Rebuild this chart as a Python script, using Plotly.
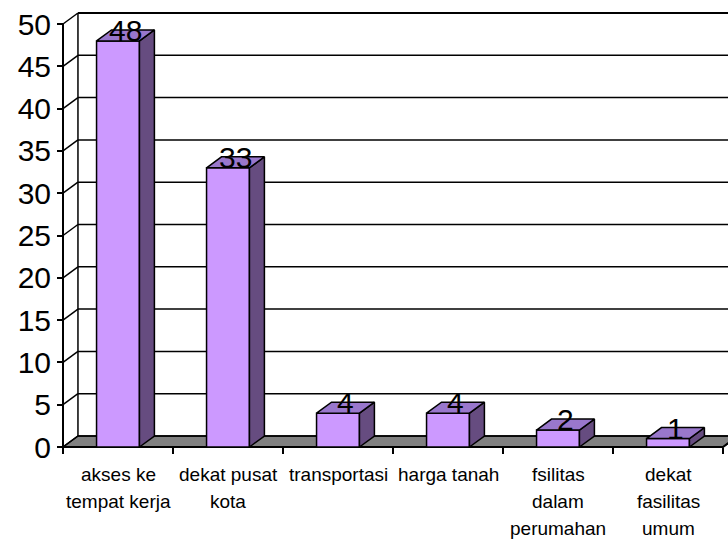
import plotly.graph_objects as go

# Survey results: reasons for choosing a housing location
kategori = [
    "akses ke<br>tempat kerja",
    "dekat pusat<br>kota",
    "transportasi",
    "harga tanah",
    "fsilitas<br>dalam<br>perumahan",
    "dekat<br>fasilitas<br>umum",
]
nilai = [48, 33, 4, 4, 2, 1]
y_ticks = list(range(0, 51, 5))

# colours of the pseudo-3D column faces
C_FRONT = "#CC99FF"
C_SIDE = "#664C80"
C_TOP = "#9977CC"
C_FLOOR = "#808080"
FONT = "Liberation Sans, Arial, sans-serif"

# depth of the 3D box in data units (x: category units, y: value units)
DX = 0.136
DY = 1.30
BAR_W = 0.39

# layout geometry (pixels)
W, H = 728, 540
ML, MR, MT, MB = 50, 0, 8, 80
PX_PER_UNIT = 8.46
Y0_PX = 447           # pixel row of value 0 on the front plane
X_AXIS_PX = 63        # pixel column of the front value axis
CAT_W_PX = 110

plot_w = W - ML - MR
plot_h = H - MT - MB
x_lo = -0.5 - (X_AXIS_PX - ML) / CAT_W_PX
x_hi = x_lo + plot_w / CAT_W_PX
y_lo = -((H - MB) - Y0_PX) / PX_PER_UNIT
y_hi = y_lo + plot_h / PX_PER_UNIT

n = len(kategori)
xs = list(range(n))
y_max = y_ticks[-1]

fig = go.Figure()

# front faces of the columns
fig.add_trace(go.Bar(
    x=xs, y=nilai, width=BAR_W,
    marker=dict(color=C_FRONT, line=dict(color="black", width=1.5)),
    hoverinfo="skip", showlegend=False,
))

# side and top faces
for i, v in enumerate(nilai):
    xr = i + BAR_W / 2
    xl = i - BAR_W / 2
    fig.add_trace(go.Scatter(
        x=[xr, xr + DX, xr + DX, xr, xr], y=[0, DY, v + DY, v, 0],
        mode="lines", fill="toself", fillcolor=C_SIDE,
        line=dict(color="black", width=1.5),
        hoverinfo="skip", showlegend=False,
    ))
    fig.add_trace(go.Scatter(
        x=[xl, xr, xr + DX, xl + DX, xl], y=[v, v, v + DY, v + DY, v],
        mode="lines", fill="toself", fillcolor=C_TOP,
        line=dict(color="black", width=1.5),
        hoverinfo="skip", showlegend=False,
    ))

shapes = []
x_left = -0.5
x_right = n - 0.5

# floor
shapes.append(dict(
    type="path", layer="below", xref="x", yref="y",
    path=f"M {x_left},0 L {x_right},0 L {x_right + DX},{DY} L {x_left + DX},{DY} Z",
    fillcolor=C_FLOOR, line=dict(color="black", width=1.5),
))
# back wall grid lines and left wall diagonals
for v in y_ticks:
    shapes.append(dict(
        type="line", layer="below", xref="x", yref="y",
        x0=x_left + DX, x1=x_hi + 1, y0=v + DY, y1=v + DY,
        line=dict(color="black", width=2 if v == y_max else 1.5),
    ))
    shapes.append(dict(
        type="line", layer="below", xref="x", yref="y",
        x0=x_left, x1=x_left + DX, y0=v, y1=v + DY,
        line=dict(color="black", width=1.5),
    ))
# back wall left edge
shapes.append(dict(
    type="line", layer="below", xref="x", yref="y",
    x0=x_left + DX, x1=x_left + DX, y0=DY, y1=y_max + DY,
    line=dict(color="black", width=1.5),
))
# front value axis
shapes.append(dict(
    type="line", layer="below", xref="x", yref="y",
    x0=x_left, x1=x_left, y0=0, y1=y_max,
    line=dict(color="black", width=2),
))
# front category axis
shapes.append(dict(
    type="path", layer="below", xref="x", yref="y",
    path=f"M {x_left},0 L {x_right},0 L {x_right + DX},{DY}",
    line=dict(color="black", width=2),
))

annotations = []
# value labels on top of the columns
for i, v in enumerate(nilai):
    annotations.append(dict(
        x=i + DX / 2, y=v, xref="x", yref="y", text=str(v),
        showarrow=False, yanchor="bottom", yshift=-8,
        font=dict(family=FONT, size=30, color="black"),
    ))
# category labels, one annotation per line
for i, lab in enumerate(kategori):
    for k, line in enumerate(lab.split("<br>")):
        annotations.append(dict(
            x=i, y=0, xref="x", yref="y", text=line,
            showarrow=False, yanchor="middle", yshift=-(27 + 27 * k),
            font=dict(family=FONT, size=19, color="black"),
        ))

fig.update_layout(
    width=W, height=H,
    margin=dict(l=ML, r=MR, t=MT, b=MB, pad=0),
    paper_bgcolor="white", plot_bgcolor="white",
    shapes=shapes, annotations=annotations,
    showlegend=False,
    xaxis=dict(
        range=[x_lo, x_hi], showgrid=False, zeroline=False, showline=False,
        tickmode="array", tickvals=[i - 0.5 for i in range(n + 1)],
        ticktext=[""] * (n + 1), ticks="outside", ticklen=6,
        tickcolor="black", tickwidth=1.5,
        anchor="free", position=((H - MB) - Y0_PX) / plot_h,
        fixedrange=True,
    ),
    yaxis=dict(
        range=[y_lo, y_hi], showgrid=False, zeroline=False, showline=False,
        tickmode="array", tickvals=y_ticks, ticks="outside", ticklen=6,
        tickcolor="black", tickwidth=1.5,
        tickfont=dict(family=FONT, size=30, color="black"),
        anchor="free", position=(X_AXIS_PX - ML) / plot_w,
        fixedrange=True,
    ),
)

fig.write_html("out.html")
